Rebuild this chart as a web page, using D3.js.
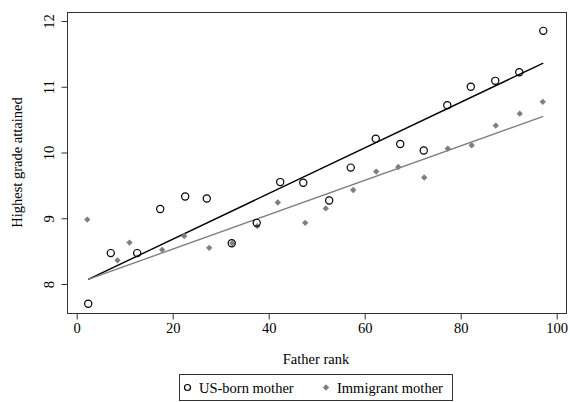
<!DOCTYPE html>
<html>
<head>
<meta charset="utf-8">
<script src="https://cdn.jsdelivr.net/npm/d3@7"></script>
<style>
  html, body { margin: 0; padding: 0; background: #fff; }
  svg text { font-family: "Liberation Serif", "Times New Roman", "DejaVu Serif", serif !important; }
</style>
</head>
<body>
<svg id="chart" width="570" height="402"></svg>
<script>
// Data
const usX = [2.4, 7.1, 12.6, 17.4, 22.6, 27.1, 32.3, 37.5, 42.4, 47.2, 52.6, 57.1, 62.3, 67.4, 72.3, 77.2, 82.1, 87.2, 92.2, 97.2];
const usY = [7.70, 8.47, 8.47, 9.14, 9.33, 9.30, 8.62, 8.93, 9.55, 9.54, 9.27, 9.77, 10.21, 10.13, 10.03, 10.72, 11.00, 11.09, 11.22, 11.85];
const immX = [2.2, 8.5, 11.0, 17.8, 22.4, 27.6, 32.4, 37.6, 41.9, 47.6, 51.9, 57.6, 62.4, 67.0, 72.4, 77.3, 82.3, 87.3, 92.3, 97.1];
const immY = [8.98, 8.36, 8.63, 8.52, 8.73, 8.55, 8.62, 8.88, 9.24, 8.93, 9.15, 9.43, 9.71, 9.78, 9.62, 10.06, 10.11, 10.41, 10.59, 10.77];
const fitX = [2.4, 97.2];
const fitUS = [8.07, 11.36];
const fitImm = [8.07, 10.55];
const xTicks = [0, 20, 40, 60, 80, 100];
const yTicks = [8, 9, 10, 11, 12];
const legendLabels = ["US-born mother", "Immigrant mother"];

const svg = d3.select("#chart");
const frame = {left: 67, top: 12, right: 566, bottom: 313};

const x = d3.scaleLinear().domain([0, 100]).range([76.7, 556.7]);
const y = d3.scaleLinear().domain([8, 12]).range([284, 21]);

const grey = "#7f7f7f";
const FS = 14.5;

// frame
svg.append("rect")
  .attr("x", frame.left + 0.5).attr("y", frame.top + 0.5)
  .attr("width", frame.right - frame.left).attr("height", frame.bottom - frame.top)
  .attr("fill", "none").attr("stroke", "#333").attr("stroke-width", 1);

// axes
const xAxis = d3.axisBottom(x).tickValues(xTicks).tickSize(6).tickPadding(3);
const gx = svg.append("g").attr("transform", `translate(0,${frame.bottom + 0.5})`).call(xAxis);
gx.select(".domain").remove();
gx.selectAll("line").attr("stroke", "#333");
gx.selectAll("text").attr("font-size", FS).attr("fill", "#000");

const yAxis = d3.axisLeft(y).tickValues(yTicks).tickSize(6).tickFormat(d3.format("d"));
const gy = svg.append("g").attr("transform", `translate(${frame.left + 0.5},0)`).call(yAxis);
gy.select(".domain").remove();
gy.selectAll("line").attr("stroke", "#333");
gy.selectAll("text")
  .attr("font-size", FS).attr("fill", "#000")
  .attr("x", null).attr("dy", null)
  .attr("text-anchor", "middle")
  .attr("transform", "translate(-19,0) rotate(-90)")
  .attr("dominant-baseline", "central");

// axis titles
svg.append("text").attr("x", 316).attr("y", 364).attr("text-anchor", "middle")
  .attr("font-size", FS).text("Father rank");
svg.append("text").attr("transform", `translate(21.5,162.5) rotate(-90)`)
  .attr("text-anchor", "middle").attr("font-size", FS).text("Highest grade attained");

// fit lines
const line = d3.line().x(d => x(d[0])).y(d => y(d[1]));
svg.append("path").datum(fitX.map((v, i) => [v, fitUS[i]]))
  .attr("d", line).attr("stroke", "#000").attr("stroke-width", 1.4).attr("fill", "none");
svg.append("path").datum(fitX.map((v, i) => [v, fitImm[i]]))
  .attr("d", line).attr("stroke", grey).attr("stroke-width", 1.4).attr("fill", "none");

// markers
const diamond = d3.symbol().type(d3.symbolSquare).size(20);
svg.append("g").selectAll("path").data(immX.map((v, i) => [v, immY[i]])).join("path")
  .attr("d", diamond)
  .attr("transform", d => `translate(${x(d[0])},${y(d[1])}) rotate(45)`)
  .attr("fill", grey);

svg.append("g").selectAll("circle").data(usX.map((v, i) => [v, usY[i]])).join("circle")
  .attr("cx", d => x(d[0])).attr("cy", d => y(d[1])).attr("r", 3.6)
  .attr("fill", "none").attr("stroke", "#000").attr("stroke-width", 1.2);

// legend
const lg = svg.append("g");
lg.append("rect").attr("x", 179.5).attr("y", 374.5).attr("width", 273).attr("height", 26)
  .attr("fill", "none").attr("stroke", "#333").attr("stroke-width", 1);
lg.append("circle").attr("cx", 187.5).attr("cy", 387.5).attr("r", 3)
  .attr("fill", "none").attr("stroke", "#000").attr("stroke-width", 1.2);
lg.append("text").attr("x", 199).attr("y", 392.5).attr("font-size", FS).text(legendLabels[0]);
lg.append("path").attr("d", diamond).attr("transform", "translate(326,387.5) rotate(45)").attr("fill", grey);
lg.append("text").attr("x", 337).attr("y", 392.5).attr("font-size", FS).text(legendLabels[1]);
</script>
</body>
</html>
